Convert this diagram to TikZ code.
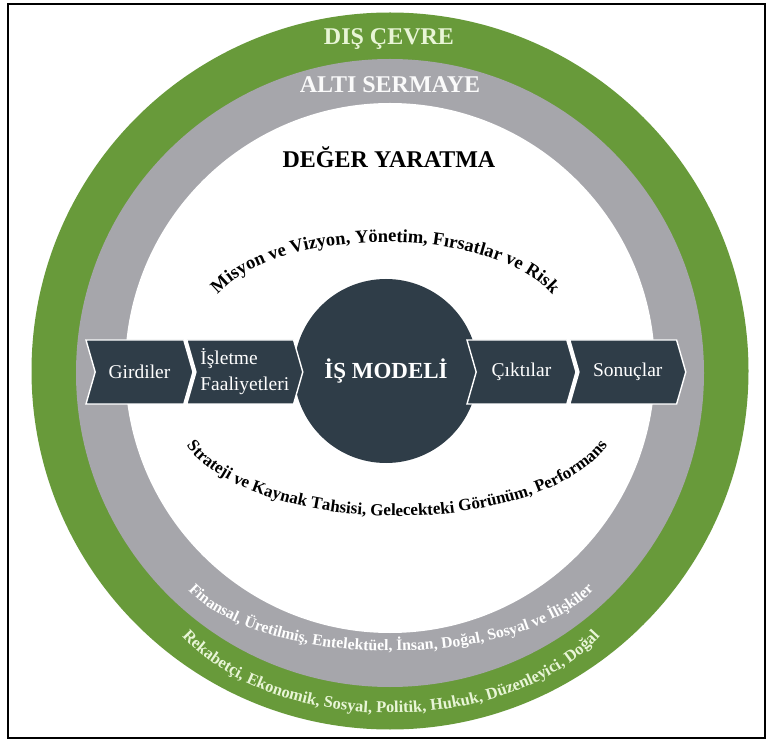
\documentclass[tikz,border=0pt]{standalone}
\usepackage{fontspec}
\setmainfont{Liberation Serif}
\usetikzlibrary{positioning,shapes.symbols,decorations.text}

\definecolor{envgreen}{RGB}{104,154,58}
\definecolor{capgray}{RGB}{166,166,171}
\definecolor{slate}{RGB}{47,61,72}
\definecolor{mint}{RGB}{232,245,214}

\begin{document}
\begin{tikzpicture}[
  x=1pt, y=1pt,
  chevron/.style={signal, signal from=west, signal to=east, signal pointer angle=148,
    fill=slate, draw=white, line width=1.4pt, text=white, minimum height=64pt,
    inner sep=0pt, align=left, font=\fontsize{19.5}{26}\selectfont},
  title/.style={anchor=base, font=\bfseries\fontsize{24}{24}\selectfont},
  arcpath/.style={decorate, decoration={text along path, text align=center, #1}}
]
\useasboundingbox (0,0) rectangle (766,740);
\fill[envgreen] (390,369) circle[radius=358.5];
\fill[capgray] (390,367) circle[radius=314];
\fill[white] (390,372) circle[radius=265];
\node[title, text=mint] (dis) at (389,695) {DIŞ ÇEVRE};
\node[title, text=white!94!capgray] (alti) at (390,647) {ALTI SERMAYE};
\node[title] (deger) at (389,572) {DEĞER YARATMA};
\node[circle, fill=slate, minimum size=184pt, inner sep=0pt, text=white,
  font=\bfseries\fontsize{23}{23}\selectfont] (model) at (386,369) {İŞ MODELİ};
\node[chevron, minimum width=107pt] (girdiler) at (139.5,368) {Girdiler};
\node[chevron, minimum width=116pt, right=1.5pt of girdiler] (isletme) {İşletme\\Faaliyetleri};
\node[chevron, minimum width=109pt] (ciktilar) at (521.5,368) {Çıktılar};
\node[chevron, minimum width=116pt, right=1.5pt of ciktilar] (sonuclar) {Sonuçlar};
% curved labels
\path[arcpath={text={|\bfseries\fontsize{18.5}{18.5}\selectfont|Misyon ve Vizyon, Yönetim, Fırsatlar ve Risk}}]
  (205,415) arc[start angle=180, end angle=0, x radius=180, y radius=83];
\path[arcpath={text={|\bfseries\fontsize{17}{17}\selectfont|Strateji ve Kaynak Tahsisi, Gelecekteki Görünüm, Performans}}]
  (175,327) arc[start angle=180, end angle=360, x radius=222, y radius=103];
\path[arcpath={text color=white, text={|\bfseries\fontsize{15.8}{15.8}\selectfont|Finansal, Üretilmiş, Entelektüel, İnsan, Doğal, Sosyal ve İlişkiler}}]
  (172,187) arc[start angle=180, end angle=360, x radius=219, y radius=98];
\path[arcpath={text color=mint, text={|\bfseries\fontsize{16.5}{16.5}\selectfont|Rekabetçi, Ekonomik, Sosyal, Politik, Hukuk, Düzenleyici, Doğal}}]
  (150,180) arc[start angle=180, end angle=360, x radius=241, y radius=153];
\draw[line width=2pt] (8,2) rectangle (765,736);
\end{tikzpicture}
\end{document}
